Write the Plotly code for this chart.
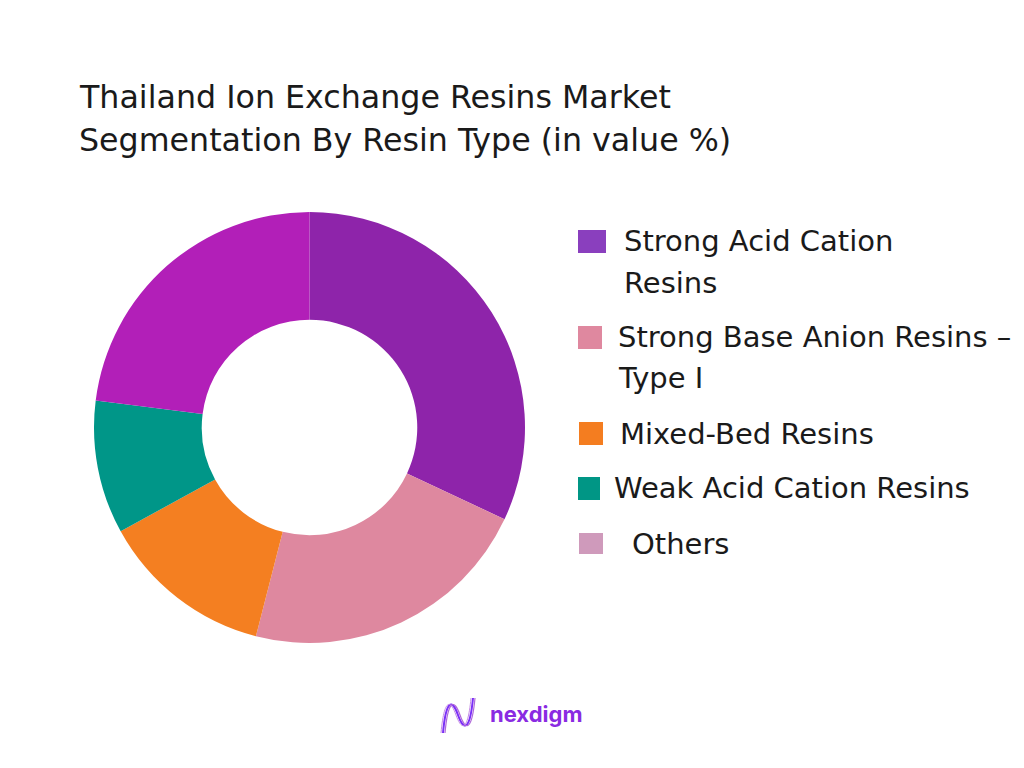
import plotly.graph_objects as go

W, H = 1024, 768
OFF = 8  # page body margin compensation

categories = ["Strong Acid Cation Resins", "Strong Base Anion Resins – Type I",
              "Mixed-Bed Resins", "Weak Acid Cation Resins", "Others"]
values = [32, 22, 13, 10, 23]
slice_colors = ["#8E24AA", "#DE889F", "#F47F21", "#009688", "#B21FB8"]
legend_colors = ["#8A3FBE", "#DF889F", "#F47D20", "#009685", "#CF9ABB"]
legend_lines = [["Strong Acid Cation", "Resins"],
                ["Strong Base Anion Resins –", "Type I"],
                ["Mixed-Bed Resins"],
                ["Weak Acid Cation Resins"],
                ["Others"]]
title_lines = ["Thailand Ion Exchange Resins Market",
               "Segmentation By Resin Type (in value %)"]

FONT = "DejaVu Sans"

def px(x):
    return (x - OFF) / W

def py(y):
    return 1 - (y - OFF) / H

cx, cy, R = 309.5, 427.5, 215.5

fig = go.Figure()
fig.add_trace(go.Pie(
    labels=categories, values=values, hole=0.5, sort=False,
    direction="clockwise", rotation=0,
    marker=dict(colors=slice_colors, line=dict(width=0)),
    textinfo="none", hoverinfo="label+percent", showlegend=False,
    domain=dict(x=[px(cx - R), px(cx + R)], y=[py(cy + R), py(cy - R)]),
))

annotations = []
shapes = []

# title
for i, t in enumerate(title_lines):
    annotations.append(dict(text=t, x=px(77), y=py(97 + i * 43), xref="paper", yref="paper",
                            xanchor="left", yanchor="middle", showarrow=False,
                            font=dict(family=FONT, size=31.7, color="#1a1a1a")))

# custom legend
box = [(578, 230, 606, 253), (578, 326, 602, 349), (579, 422, 603, 445),
       (578, 477, 600, 500), (579, 533, 603, 554)]
text_x = [622, 616, 618, 612, 630]
text_y = [[240, 282], [336, 377], [433], [487], [543]]
for i in range(len(categories)):
    x0, y0, x1, y1 = box[i]
    shapes.append(dict(type="rect", xref="paper", yref="paper",
                       x0=px(x0), x1=px(x1), y0=py(y1), y1=py(y0),
                       fillcolor=legend_colors[i], line=dict(width=0)))
    for line, yy in zip(legend_lines[i], text_y[i]):
        annotations.append(dict(text=line, x=px(text_x[i]), y=py(yy + 1), xref="paper", yref="paper",
                                xanchor="left", yanchor="middle", showarrow=False,
                                font=dict(family=FONT, size=29, color="#1a1a1a")))

# nexdigm logo
annotations.append(dict(text="<b>nexdigm</b>", x=px(488), y=py(714), xref="paper", yref="paper",
                        xanchor="left", yanchor="middle", showarrow=False,
                        font=dict(family="Inter", size=22, color="#8a2be2")))

def logo_path(offset):
    pts = [(443 + offset, 733), (446 + offset, 700), (452 + offset, 698), (458 + offset, 715),
           (464 + offset, 732), (470 + offset, 730), (473 + offset, 698)]
    d = "M {},{}".format(px(pts[0][0]), py(pts[0][1]))
    d += " C {},{} {},{} {},{}".format(px(pts[1][0]), py(pts[1][1]), px(pts[2][0]), py(pts[2][1]),
                                       px(pts[3][0]), py(pts[3][1]))
    d += " C {},{} {},{} {},{}".format(px(pts[4][0]), py(pts[4][1]), px(pts[5][0]), py(pts[5][1]),
                                       px(pts[6][0]), py(pts[6][1]))
    return d

for off, col, wdt in [(0, "#7b2ff7", 2), (2, "#b06ad9", 1.2), (-2, "#c58ae6", 1)]:
    shapes.append(dict(type="path", xref="paper", yref="paper", path=logo_path(off),
                       line=dict(color=col, width=wdt)))

fig.update_layout(width=W, height=H, margin=dict(l=0, r=0, t=0, b=0),
                  paper_bgcolor="white", plot_bgcolor="white",
                  annotations=annotations, shapes=shapes, showlegend=False)

fig.write_html("out.html")
